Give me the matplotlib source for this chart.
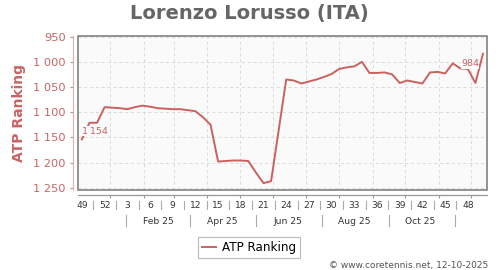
import matplotlib
matplotlib.use("Agg")
import matplotlib.pyplot as plt
import matplotlib.dates as mdates
from matplotlib.patches import Rectangle
from matplotlib.transforms import blended_transform_factory
import datetime as dt

# ---- data ----
first_week_monday = dt.date(2024, 12, 2)
ranks = [1154, 1121, 1121, 1090, 1091, 1092, 1094, 1090, 1087, 1089,
         1092, 1093, 1094, 1094, 1096, 1098, 1110, 1125, 1198, 1197,
         1196, 1196, 1197, 1220, 1241, 1237, 1136, 1035, 1037, 1043,
         1039, 1035, 1030, 1024, 1014, 1011, 1009, 1000, 1022, 1022,
         1021, 1025, 1042, 1037, 1040, 1043, 1021, 1020, 1023, 1003,
         1013, 1014, 1042, 984]
yticks = [950, 1000, 1050, 1100, 1150, 1200, 1250]
month_labels = ["Feb 25", "Apr 25", "Jun 25", "Aug 25", "Oct 25"]
month_label_dates = [dt.date(2025, 2, 15), dt.date(2025, 4, 15), dt.date(2025, 6, 15),
                     dt.date(2025, 8, 15), dt.date(2025, 10, 15)]
month_sep_dates = [dt.date(2025, 1, 16), dt.date(2025, 3, 16), dt.date(2025, 5, 16),
                   dt.date(2025, 7, 16), dt.date(2025, 9, 16), dt.date(2025, 11, 16)]

# week centres (points drawn mid-week)
dates = [dt.datetime.combine(first_week_monday, dt.time()) + dt.timedelta(days=7 * i + 4)
         for i in range(len(ranks))]

RED = "#c9625f"
TXT_RED = "#c86464"
GRAY = "#666666"
BG = "#fafafa"

W, H = 500, 270
fig = plt.figure(figsize=(5, 2.7), dpi=100)
L, R, T, B = 78.3, 487.3, 35.7, 190.0
ax = fig.add_axes([L / W, 1 - B / H, (R - L) / W, (B - T) / H])
ax.set_facecolor(BG)

ax.plot(dates, ranks, color=RED, lw=1.4, zorder=3, solid_joinstyle="round")

ax.set_xlim(dt.datetime(2024, 12, 2, 16), dt.datetime(2025, 12, 16))
ax.set_ylim(1254.6, 948)

# y axis
ax.set_yticks(yticks)
ax.set_yticklabels([f"{v:,}".replace(",", " ") for v in yticks])
ax.tick_params(axis="y", length=2.2, width=0.8, color="#999999", labelcolor=TXT_RED,
               labelsize=8.2, pad=3.1)
ax.spines["left"].set_position(("outward", 3.6))
ax.spines["left"].set_color("#e4b4b4")
ax.spines["left"].set_linewidth(0.9)

# x axis (month ticks)
ax.xaxis.set_major_locator(mdates.MonthLocator())
ax.tick_params(axis="x", length=2.2, width=0.8, color="#999999", labelbottom=False)
ax.spines["bottom"].set_position(("outward", 3.5))
ax.spines["bottom"].set_color("#999999")
ax.spines["bottom"].set_linewidth(0.9)
ax.spines["top"].set_visible(False)
ax.spines["right"].set_visible(False)

ax.grid(True, color="#d9d9d9", linestyle=(0, (3, 3)), linewidth=0.7)
ax.set_axisbelow(True)

ax.add_patch(Rectangle((0, 0), 1, 1, transform=ax.transAxes, fill=False,
                       edgecolor="#777777", lw=1.1, clip_on=False, zorder=5))

# week label row
trans = blended_transform_factory(ax.transData, fig.transFigure)
def fy(py):
    return 1 - py / H

week_idx = list(range(0, len(ranks) - 1, 3))
for i in week_idx:
    ax.text(dates[i], fy(208.3), str(dates[i].isocalendar()[1]), transform=trans,
            ha="center", va="baseline", fontsize=6.6, color="#333333", clip_on=False)
for a, b in zip(week_idx[:-1], week_idx[1:]):
    mid = dates[a] + (dates[b] - dates[a]) / 2
    ax.plot([mid, mid], [fy(200.7), fy(209.3)], transform=trans, color="#aaaaaa",
            lw=0.8, clip_on=False)

# month label row
for d, lab in zip(month_label_dates, month_labels):
    ax.text(d, fy(223.7), lab, transform=trans, ha="center", va="baseline",
            fontsize=6.6, color="#333333", clip_on=False)
for d in month_sep_dates:
    ax.plot([d, d], [fy(215), fy(225.7)], transform=trans, color="#aaaaaa",
            lw=0.8, clip_on=False)

# value annotations
ax.annotate("1\u2009154", xy=(dates[0], ranks[0]), xytext=(0, 8), textcoords="offset pixels",
            ha="left", va="center", fontsize=6.8, color=TXT_RED, zorder=4,
            bbox=dict(boxstyle="square,pad=0.05", fc=BG, ec="none"))
ax.annotate(str(ranks[-1]), xy=(dates[-1], ranks[-1]), xytext=(-4, -10),
            textcoords="offset pixels", ha="right", va="center", fontsize=6.8,
            color=TXT_RED, zorder=4,
            bbox=dict(boxstyle="square,pad=0.05", fc=BG, ec="none"))

# labels
ax.set_ylabel("ATP Ranking", color=TXT_RED, fontsize=10, fontweight="bold")
ax.yaxis.set_label_coords((26.0 - L) / (R - L), 0.5)

fig.text(249.5 / W, fy(19), "Lorenzo Lorusso (ITA)", ha="center", va="baseline",
         fontsize=14, fontweight="bold", color=GRAY)

handle, = [l for l in ax.get_lines()][:1]
leg = fig.legend([handle], ["ATP Ranking"], loc="center",
                 bbox_to_anchor=(249 / W, fy(247.2)), fontsize=8.6, frameon=True,
                 fancybox=False, edgecolor="#aaaaaa", handlelength=1.2,
                 handletextpad=0.5, borderpad=0.35, borderaxespad=0)
leg.get_frame().set_linewidth(0.8)

fig.text(488 / W, fy(268), "\u00a9 www.coretennis.net, 12-10-2025", ha="right",
         va="baseline", fontsize=6.5, color="#555555")

fig.savefig("out.png", dpi=100)
